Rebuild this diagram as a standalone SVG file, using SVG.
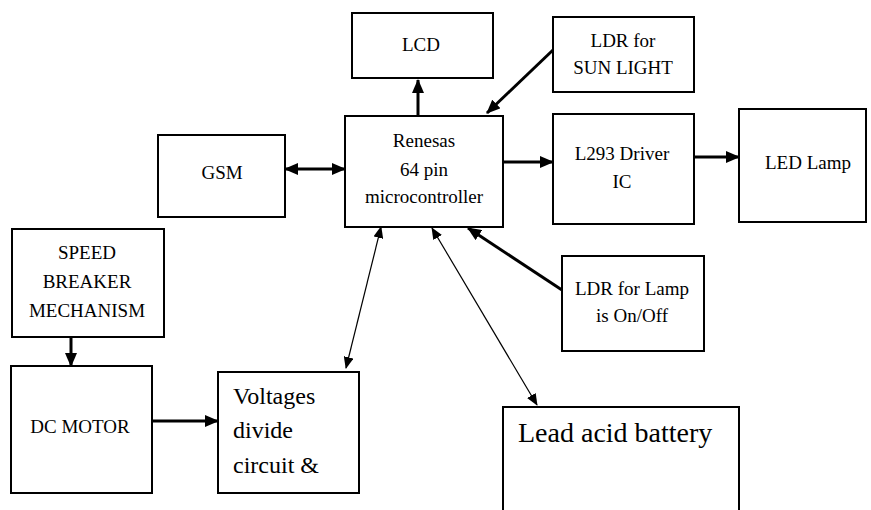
<svg xmlns="http://www.w3.org/2000/svg" width="871" height="510" viewBox="0 0 871 510">
<style>
.box{fill:#fff;stroke:#000;stroke-width:2}
.t{font-size:19px;fill:#000;text-anchor:middle}
.tl{fill:#000}
.thick{fill:none;stroke:#000;stroke-width:3}
.thin{fill:none;stroke:#000;stroke-width:1.2}
</style>
<defs>
<marker id="ah" markerUnits="userSpaceOnUse" markerWidth="14" markerHeight="12" refX="13" refY="6" orient="auto-start-reverse"><path d="M0,0 L14,6 L0,12 z" fill="#000"/></marker>
<marker id="as" markerUnits="userSpaceOnUse" markerWidth="12" markerHeight="10" refX="11" refY="5" orient="auto-start-reverse"><path d="M0,0 L12,5 L0,10 z" fill="#000"/></marker>
</defs>
<rect width="871" height="510" fill="#fff"/>
<g id="connectors">
<path class="thick" d="M418,116 L418,80" marker-end="url(#ah)"/>
<path class="thick" d="M553,50 L487,113" marker-end="url(#ah)"/>
<path class="thick" d="M503,162 L553,162" marker-end="url(#ah)"/>
<path class="thick" d="M694,157 L739,157" marker-end="url(#ah)"/>
<path class="thick" d="M285,169 L345,169" marker-start="url(#ah)" marker-end="url(#ah)"/>
<path class="thick" d="M71,337 L71,366" marker-end="url(#ah)"/>
<path class="thick" d="M152,421 L218,421" marker-end="url(#ah)"/>
<path class="thin" d="M346,368 L381,227" marker-start="url(#as)" marker-end="url(#as)"/>
<path class="thin" d="M537,405 L432,228" marker-start="url(#as)" marker-end="url(#as)"/>
<path class="thick" d="M562,290 L468,228" marker-end="url(#ah)"/>
</g>
<g font-family="'Liberation Serif', 'DejaVu Serif', serif">
<g id="lcd"><rect class="box" x="352" y="13" width="141" height="65"/><text class="t" x="421" y="51">LCD</text></g>
<g id="ldr-sun"><rect class="box" x="553" y="17" width="141" height="75"/><text class="t" x="623" y="47">LDR for</text><text class="t" x="623" y="74">SUN LIGHT</text></g>
<g id="renesas"><rect class="box" x="345" y="116" width="158" height="111"/><text class="t" x="424" y="147">Renesas</text><text class="t" x="424" y="176">64 pin</text><text class="t" x="424" y="203">microcontroller</text></g>
<g id="l293"><rect class="box" x="553" y="114" width="141" height="110"/><text class="t" x="622" y="160">L293 Driver</text><text class="t" x="622" y="188">IC</text></g>
<g id="led"><rect class="box" x="739" y="109" width="127" height="113"/><text class="t" x="808" y="169">LED Lamp</text></g>
<g id="gsm"><rect class="box" x="158" y="135" width="127" height="82"/><text class="t" x="222" y="179">GSM</text></g>
<g id="speed"><rect class="box" x="12" y="229" width="152" height="108"/><text class="t" x="87" y="259">SPEED</text><text class="t" x="87" y="288">BREAKER</text><text class="t" x="87" y="317">MECHANISM</text></g>
<g id="dcmotor"><rect class="box" x="11" y="366" width="141" height="127"/><text class="t" x="80" y="433">DC MOTOR</text></g>
<g id="voltages"><rect class="box" x="218" y="372" width="141" height="121"/><text class="tl" font-size="24" x="233" y="404">Voltages</text><text class="tl" font-size="24" x="233" y="438">divide</text><text class="tl" font-size="24" x="233" y="473">circuit &amp;</text></g>
<g id="ldr-lamp"><rect class="box" x="562" y="256" width="142" height="95"/><text class="t" x="632" y="295">LDR for Lamp</text><text class="t" x="632" y="322">is On/Off</text></g>
<g id="battery"><path class="box" d="M503,512 L503,407 L739,407 L739,512"/><text class="tl" font-size="28" x="518" y="442">Lead acid battery</text></g>
</g>
</svg>
